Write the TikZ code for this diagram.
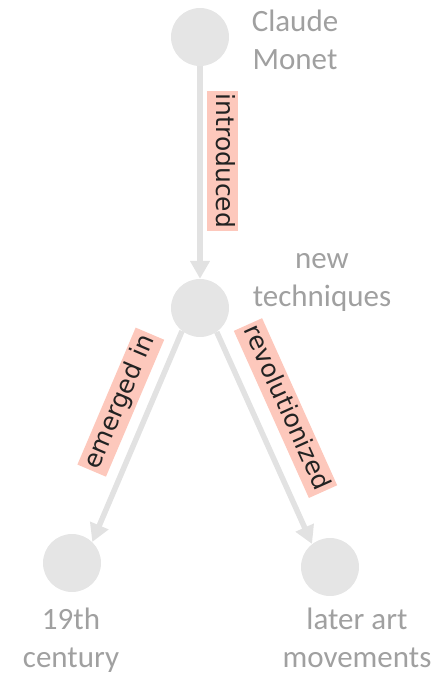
\documentclass[tikz,border=0pt]{standalone}
\usepackage{fontspec}
\setmainfont{Carlito}
\newfontfamily\edgefont{DejaVu Sans}
\usetikzlibrary{arrows.meta}
\definecolor{nodegray}{HTML}{E5E5E5}
\definecolor{linkgray}{HTML}{E2E2E2}
\definecolor{labelgray}{HTML}{A0A0A0}
\definecolor{tagpink}{HTML}{FDC8BC}
\definecolor{tagtext}{HTML}{222222}
\begin{document}
\begin{tikzpicture}[x=1pt,y=-1pt,
  concept/.style={circle, fill=nodegray, minimum size=58pt, inner sep=0pt},
  caption/.style={text=labelgray, font=\fontsize{31}{38}\selectfont,
    align=center, inner sep=0pt, anchor=base},
  link/.style={draw=linkgray, line width=5.5pt,
    -{Triangle[width=19pt,length=18pt]}},
  tag/.style={fill=tagpink, text=tagtext, font=\edgefont\fontsize{25}{25}\selectfont,
    text height=19pt, text depth=6pt, inner xsep=3pt, inner ysep=3pt,
    sloped, anchor=south}
]
\useasboundingbox (0,0) rectangle (439,675);

% concepts
\node[concept] (cm)  at (200,37)  {};
\node[concept] (nt)  at (200,308) {};
\node[concept] (c19) at (72,563)  {};
\node[concept] (lam) at (330,567) {};

% concept captions (positioned by the baseline of their last line)
\node[caption] (cmcap)  at (295,69)  {Claude\\Monet};
\node[caption] (ntcap)  at (322,306) {new\\techniques};
\node[caption] (c19cap) at (71,667)  {19th\\century};
\node[caption] (lamcap) at (357,667) {later art\\movements};

% relations
\draw[link] (cm.south) -- node[tag, pos=0.446, allow upside down, outer ysep=7pt] {introduced} (nt.north);
\draw[link] (nt.232) -- node[tag, pos=0.39, outer ysep=13pt] {emerged in} (c19.46);
\draw[link] (nt.305) -- node[tag, pos=0.42, outer ysep=16pt] {revolutionized} (lam.128);
\end{tikzpicture}
\end{document}
